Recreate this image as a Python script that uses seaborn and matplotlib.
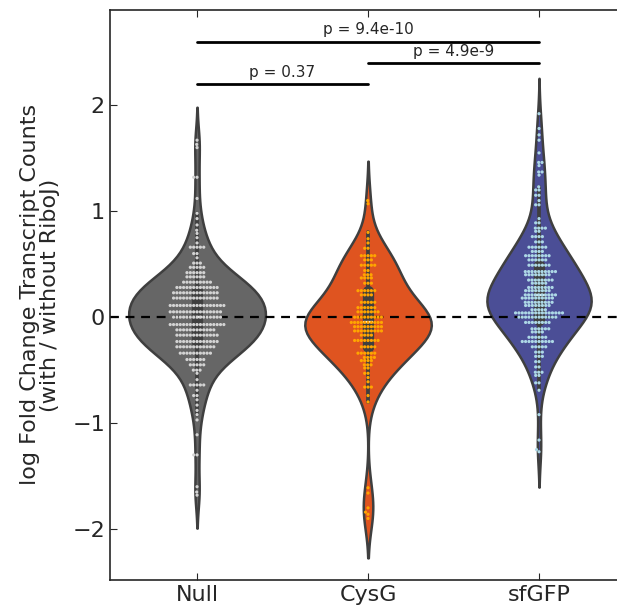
import numpy as np
import pandas as pd
import matplotlib
matplotlib.use("Agg")
import matplotlib.pyplot as plt
import seaborn as sns

# Groups and colours
groups = ["Null", "CysG", "sfGFP"]
violin_colors = ["#666666", "#df5420", "#4b4e96"]
point_colors = ["#d3d3d3", "#ffa500", "#add8e6"]
violin_widths = [0.80, 0.74, 0.61]

# Values (level, number of points at that level)
null_levels = [1.67, 1.63, 1.60, 1.32, 1.12, 0.98, 0.93, 0.87, 0.82, 0.79,
               0.75, 0.70, 0.66, 0.60, 0.56, 0.51, 0.47, 0.42, 0.38, 0.33,
               0.28, 0.23, 0.18, 0.11, 0.05, 0.00, -0.07, -0.12, -0.17, -0.23,
               -0.28, -0.34, -0.40, -0.45, -0.50, -0.53, -0.59, -0.64, -0.69, -0.74,
               -0.78, -0.83, -0.88, -0.92, -0.97, -1.11, -1.30, -1.60, -1.65, -1.68]
null_counts = [1, 1, 1, 2, 1, 1, 1, 1, 1, 1,
               1, 1, 5, 2, 1, 3, 5, 6, 6, 9,
               13, 14, 14, 17, 16, 15, 17, 12, 13, 13,
               12, 10, 6, 5, 3, 1, 1, 5, 1, 2,
               1, 1, 1, 1, 1, 1, 2, 1, 1, 1]

cysg_levels = [1.10, 1.07, 0.80, 0.74, 0.70, 0.65, 0.58, 0.54, 0.49, 0.44,
               0.40, 0.37, 0.32, 0.25, 0.21, 0.14, 0.09, 0.05, 0.00, -0.05,
               -0.09, -0.13, -0.17, -0.22, -0.28, -0.34, -0.38, -0.41, -0.45, -0.48,
               -0.53, -0.57, -0.61, -0.66, -0.74, -0.80, -1.61, -1.66, -1.80, -1.84,
               -1.86, -1.90]
cysg_counts = [1, 1, 1, 1, 1, 2, 5, 3, 5, 2,
               3, 4, 3, 6, 4, 5, 6, 7, 9, 10,
               9, 9, 4, 8, 5, 6, 4, 4, 3, 2,
               2, 1, 1, 3, 1, 1, 1, 1, 1, 1,
               1, 1]

sfgfp_levels = [1.92, 1.78, 1.72, 1.67, 1.55, 1.46, 1.43, 1.37, 1.34, 1.23,
                1.20, 1.15, 1.10, 1.06, 0.93, 0.89, 0.84, 0.81, 0.76, 0.71,
                0.66, 0.62, 0.58, 0.54, 0.49, 0.43, 0.40, 0.35, 0.32, 0.28,
                0.25, 0.21, 0.18, 0.14, 0.11, 0.07, 0.04, 0.00, -0.05, -0.11,
                -0.14, -0.19, -0.23, -0.28, -0.33, -0.37, -0.42, -0.47, -0.52, -0.55,
                -0.62, -0.69, -0.92, -1.16, -1.25, -1.27]
sfgfp_counts = [1, 1, 1, 1, 1, 2, 1, 2, 1, 1,
                2, 2, 1, 2, 1, 2, 4, 2, 4, 3,
                6, 4, 8, 6, 7, 10, 8, 8, 5, 8,
                8, 10, 10, 9, 8, 5, 15, 12, 8, 6,
                4, 6, 10, 5, 3, 3, 2, 2, 3, 2,
                2, 1, 1, 1, 1, 1]

# Pairwise comparisons: (left group, right group, label, bar height)
comparisons = [("Null", "sfGFP", "p = 9.4e-10", 2.60),
               ("CysG", "sfGFP", "p = 4.9e-9", 2.40),
               ("Null", "CysG", "p = 0.37", 2.20)]

frames = []
for name, lv, ct in [("Null", null_levels, null_counts),
                     ("CysG", cysg_levels, cysg_counts),
                     ("sfGFP", sfgfp_levels, sfgfp_counts)]:
    frames.append(pd.DataFrame({"group": name, "lfc": np.repeat(lv, ct)}))
df = pd.concat(frames, ignore_index=True)

sns.set_style("ticks", {"xtick.direction": "in", "ytick.direction": "in"})

fig = plt.figure(figsize=(6.17, 6.15), dpi=100)
ax = fig.add_axes([0.178, 0.057, 0.822, 0.927])

# one violin per call so each keeps the width it has in the figure
for g, col, w in zip(groups, violin_colors, violin_widths):
    sns.violinplot(data=df[df["group"] == g], x="group", y="lfc", order=groups,
                   color=col, saturation=1, linecolor="#3f3f3f",
                   linewidth=1.8, width=w, ax=ax)
sns.swarmplot(data=df, x="group", y="lfc", hue="group", order=groups,
              palette=point_colors, size=2.3, legend=False, ax=ax)

ax.axhline(0, color="black", linestyle="--", linewidth=1.6, dashes=(4, 3))

pos = {g: i for i, g in enumerate(groups)}
for a, b, label, h in comparisons:
    ax.plot([pos[a], pos[b]], [h, h], color="black", linewidth=2)
    ax.text((pos[a] + pos[b]) / 2, h + 0.04, label, ha="center", va="bottom",
            fontsize=11, color="#262626")

ax.set_xlim(-0.51, 2.456)
ax.set_ylim(-2.48, 2.9)
ax.set_yticks([-2, -1, 0, 1, 2])
ax.set_yticklabels(["\u22122", "\u22121", "0", "1", "2"])
ax.set_xlabel("")
ax.set_ylabel("log Fold Change Transcript Counts\n(with / without RiboJ)",
              fontsize=16, color="#262626", linespacing=1.0, labelpad=9)
ax.tick_params(axis="both", labelsize=16, length=5, top=True, right=False,
               colors="#262626")
ax.spines["right"].set_visible(False)
for s in ["left", "bottom", "top"]:
    ax.spines[s].set_color("#262626")
    ax.spines[s].set_linewidth(1.2)

fig.savefig("out.png", dpi=100)
